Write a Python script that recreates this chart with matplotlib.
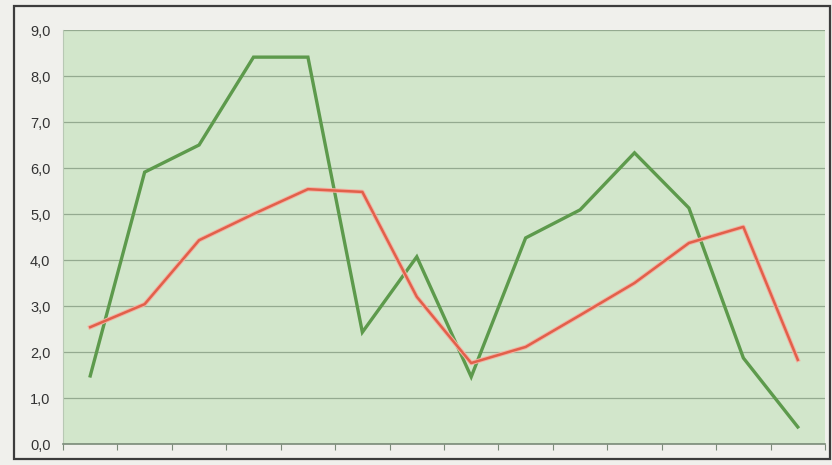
import matplotlib
matplotlib.use("Agg")
import matplotlib.pyplot as plt
from matplotlib.patches import Rectangle
from matplotlib.ticker import FuncFormatter, FixedLocator
import matplotlib.patheffects as pe
import numpy as np

categories = list(range(1, 15))
green_values = [1.48, 5.91, 6.5, 8.41, 8.41, 2.43, 4.07, 1.46, 4.48, 5.09, 6.33, 5.13, 1.87, 0.37]
red_values = [2.54, 3.04, 4.43, 5.0, 5.54, 5.48, 3.2, 1.76, 2.11, 2.8, 3.5, 4.37, 4.72, 1.83]
y_ticks = [0, 1, 2, 3, 4, 5, 6, 7, 8, 9]

plt.rcParams['font.family'] = ['Liberation Sans', 'DejaVu Sans']

W, H = 832, 465
fig = plt.figure(figsize=(W / 100, H / 100), dpi=100)
fig.patch.set_facecolor("#f0f0ec")

# outer frame
fig.patches.append(Rectangle((14 / W, 1 - 459 / H), (830 - 14) / W, (459 - 6) / H,
                             transform=fig.transFigure, fill=False,
                             edgecolor="#3c3c3c", linewidth=1.6))

ax = fig.add_axes([63 / W, 1 - 444 / H, (825 - 63) / W, (444 - 30) / H])
ax.set_facecolor("#d2e6cb")

x = np.arange(len(categories))
ax.set_xlim(-0.5, len(categories) - 0.5)
ax.set_ylim(0, 9)

ax.yaxis.set_major_locator(FixedLocator(y_ticks))
ax.yaxis.set_major_formatter(FuncFormatter(lambda v, p: f"{v:.1f}".replace(".", ",")))
ax.grid(axis="y", color="#94aa90", linewidth=0.9)
ax.set_axisbelow(True)

ax.xaxis.set_major_locator(FixedLocator(np.arange(-0.5, len(categories) + 0.5, 1)))
ax.set_xticklabels([])
ax.tick_params(axis="x", length=4, color="#7a8a78", direction="out")
ax.tick_params(axis="y", length=0, labelsize=10.5, labelcolor="#333333", pad=9)

for s in ["top", "right"]:
    ax.spines[s].set_visible(False)
ax.spines["left"].set_color("#b8c8b4")
ax.spines["left"].set_linewidth(0.8)
ax.spines["bottom"].set_color("#7a8a78")
ax.spines["bottom"].set_linewidth(1.2)

ax.plot(x, green_values, color="#5d9a4c", linewidth=2.4, solid_joinstyle="miter", zorder=3)
ax.plot(x, red_values, color="#e2604a", linewidth=1.8, zorder=4,
        path_effects=[pe.Stroke(linewidth=3.2, foreground="#f2b3a4"), pe.Normal()])

fig.savefig("out.png", dpi=100, facecolor=fig.get_facecolor())
